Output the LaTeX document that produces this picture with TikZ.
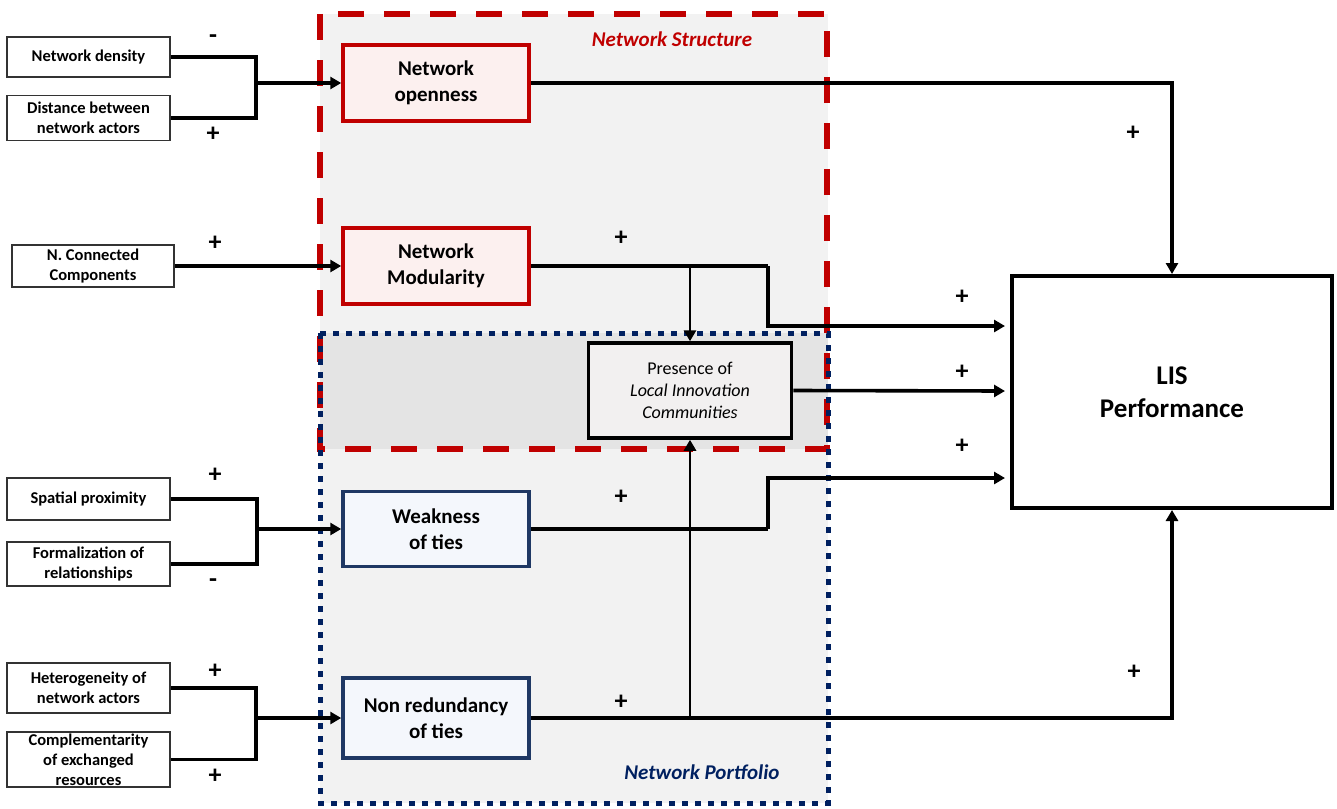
\documentclass[tikz,border=0pt]{standalone}
\usepackage{fontspec}
\setmainfont{Carlito}
\usetikzlibrary{arrows.meta}
\definecolor{rd}{HTML}{C00000}
\definecolor{nv}{HTML}{002060}
\definecolor{bxnv}{HTML}{1F3864}
\definecolor{rdfill}{HTML}{FCF0EF}
\definecolor{blfill}{HTML}{F4F7FC}
\definecolor{grayA}{HTML}{F2F2F2}
\definecolor{grayB}{HTML}{E4E4E4}
\definecolor{presfill}{HTML}{F2F0F0}
\tikzset{
  leftbox/.style={draw=black!80, line width=1.6pt, fill=white, minimum width=163pt, inner sep=0pt, align=center, font=\fontsize{16.5}{20}\selectfont\bfseries},
  mainbox/.style={line width=3.5pt, minimum width=186pt, minimum height=74pt, inner sep=0pt, align=center, font=\fontsize{21}{26}\selectfont\bfseries},
  redbox/.style={mainbox, draw=rd, fill=rdfill},
  bluebox/.style={mainbox, draw=bxnv, fill=blfill},
  conn/.style={line width=3.6pt, draw=black},
  thinconn/.style={line width=2.8pt, draw=black},
  arrtip/.style={-{Triangle[length=11pt,width=12pt]}},
  signb/.style={font=\fontsize{26}{26}\selectfont\bfseries},
}
\begin{document}
\begin{tikzpicture}[x=1pt,y=-1pt]
\useasboundingbox (0,0) rectangle (1337,808);
% group backgrounds
\fill[grayA] (320,14) rectangle (828,449);
\fill[grayA] (320,333) rectangle (828,803);
\fill[grayB] (320,333) rectangle (828,449);
\draw[rd, line width=5.5pt, dash pattern=on 26pt off 20pt] (320,14) rectangle (827,449);
\draw[nv, line width=5pt, dash pattern=on 6pt off 7pt] (320,333) rectangle (828,803);
\node[font=\fontsize{21}{24}\selectfont\bfseries\itshape, text=rd] (lblS) at (672,39) {Network Structure};
\node[font=\fontsize{21}{24}\selectfont\bfseries\itshape, text=nv] (lblP) at (702,772) {Network Portfolio};

% left boxes
\node[leftbox, minimum height=40pt] (nd) at (88.5,57) {Network density};
\node[leftbox, minimum height=45pt] (dist) at (88.5,118) {Distance between\\network actors};
\node[leftbox, minimum height=42pt, minimum width=162pt] (ncc) at (93,266) {N. Connected\\Components};
\node[leftbox, minimum height=42pt] (sp) at (88.5,499) {Spatial proximity};
\node[leftbox, minimum height=44pt] (form) at (88.5,564) {Formalization of\\relationships};
\node[leftbox, minimum height=50pt] (het) at (88.5,688) {Heterogeneity of\\network actors};
\node[leftbox, minimum height=55pt] (comp) at (88.5,759.5) {Complementarity\\of exchanged\\resources};

% main boxes
\node[redbox, minimum height=76pt] (open) at (436,83) {Network\\openness};
\node[redbox, minimum height=76pt] (mod) at (436,266) {Network\\Modularity};
\node[bluebox, minimum height=75pt] (weak) at (436,529) {Weakness\\of ties};
\node[bluebox, minimum height=80pt] (nonr) at (436,718) {Non redundancy\\of ties};
\node[draw=black, line width=3.5pt, fill=presfill, minimum width=203pt, minimum height=95pt, inner sep=0pt, align=center, font=\fontsize{18}{22}\selectfont] (pres) at (690,390.5) {Presence of\\\textit{Local Innovation}\\\textit{Communities}};
\node[draw=black, line width=4pt, fill=white, minimum width=320pt, minimum height=232pt, inner sep=0pt, align=center, font=\fontsize{27}{33}\selectfont\bfseries] (lis) at (1172,392) {LIS\\Performance};

% junction coordinates
\coordinate (j1) at (256,83);
\coordinate (j3) at (257,529);
\coordinate (j4) at (256,718);
\coordinate (bm) at (690,266);
\coordinate (bn) at (690,718);
\coordinate (m1) at (768,266);
\coordinate (w1) at (768,529);
\coordinate (inM) at (1005,326);
\coordinate (inP) at (1005,391);
\coordinate (inW) at (1005,478);

% left connectors
\draw[conn] (nd.east) -| (j1);
\draw[conn] (dist.east) -| (j1);
\draw[conn, arrtip] (j1) -- (open.west);
\draw[conn, arrtip] (ncc.east) -- (mod.west);
\draw[conn] (sp.east) -| (j3);
\draw[conn] (form.east) -| (j3);
\draw[conn, arrtip] (j3) -- (weak.west);
\draw[conn] (het.east) -| (j4);
\draw[conn] (comp.east) -| (j4);
\draw[conn, arrtip] (j4) -- (nonr.west);

% right connectors
\draw[conn, arrtip] (open.east) -| (lis.north);
\draw[conn] (mod.east) -- (m1);
\draw[conn, arrtip] (m1) |- (inM);
\draw[thinconn, arrtip] (bm) -- (pres.north);
\draw[conn, arrtip] (pres.east) -- (inP);
\draw[conn] (weak.east) -- (w1);
\draw[conn, arrtip] (w1) |- (inW);
\draw[conn, arrtip] (nonr.east) -| (lis.south);
\draw[thinconn, arrtip] (bn) -- (pres.south);

% signs
\node[signb] (s1) at (213,39) {-};
\node[signb] (s2) at (213,134) {+};
\node[signb] (s3) at (215,243) {+};
\node[signb] (s4) at (215,475) {+};
\node[signb] (s5) at (213,583) {-};
\node[signb] (s6) at (215,671) {+};
\node[signb] (s7) at (215,776) {+};
\node[signb] (s8) at (621,238) {+};
\node[signb] (s9) at (621,497) {+};
\node[signb] (s10) at (621,702) {+};
\node[signb] (s11) at (1133,133) {+};
\node[signb] (s12) at (962,297) {+};
\node[signb] (s13) at (962,372) {+};
\node[signb] (s14) at (962,446) {+};
\node[signb] (s15) at (1134,672) {+};
\end{tikzpicture}
\end{document}
